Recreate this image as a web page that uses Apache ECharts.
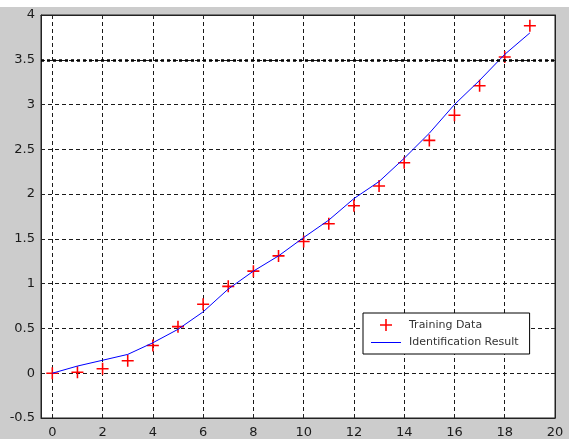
<!DOCTYPE html>
<html>
<head>
<meta charset="utf-8">
<script src="https://cdn.jsdelivr.net/npm/echarts@6/dist/echarts.min.js"></script>
<style>
  html, body { margin: 0; padding: 0; background: #fff; }
  #wrap { position: relative; width: 581px; height: 439px; overflow: hidden; }
  #panel { position: absolute; left: 0; top: 7px; width: 569px; height: 432px; background: #cccccc; }
  #chart { position: absolute; left: 0; top: 0; width: 581px; height: 439px; }
</style>
</head>
<body>
<div id="wrap"><div id="panel"></div><div id="chart"></div></div>
<script>
// Sample index (time step)
const steps = [0, 1, 2, 3, 4, 5, 6, 7, 8, 9, 10, 11, 12, 13, 14, 15, 16, 17, 18, 19];
// Measured training samples
const trainingData = [0.0, 0.01, 0.05, 0.14, 0.31, 0.52, 0.77, 0.97, 1.14, 1.31,
                      1.47, 1.67, 1.87, 2.09, 2.35, 2.60, 2.88, 3.21, 3.53, 3.88];
// Output of the identified model
const identified = [0.0, 0.08, 0.145, 0.21, 0.34, 0.49, 0.685, 0.94, 1.14, 1.31,
                    1.515, 1.71, 1.95, 2.14, 2.40, 2.68, 3.0, 3.27, 3.56, 3.80];
// Axis ticks
const xTicks = [0, 2, 4, 6, 8, 10, 12, 14, 16, 18, 20];
const threshold = 3.5;

const plusIcon = 'path://M-1,-0.13L1,-0.13L1,0.13L-1,0.13Z M-0.13,-1L0.13,-1L0.13,1L-0.13,1Z';
const lineIcon = 'path://M0,0L30,0L30,1L0,1Z';

const ink = '#1a1a1a';
const gridDash = { color: '#1a1a1a', width: 1, type: [4, 3] };
const labelFont = { fontFamily: 'DejaVu Sans', fontSize: 13, color: ink };

const chart = echarts.init(document.getElementById('chart'), null, { renderer: 'canvas' });

chart.setOption({
  animation: false,
  backgroundColor: 'transparent',
  grid: {
    left: 41, top: 15, width: 514, height: 407,
    show: true, backgroundColor: '#ffffff', borderColor: '#222', borderWidth: 1,
    containLabel: false
  },
  legend: {
    orient: 'vertical',
    left: 363, top: 313,
    padding: [6, 11, 6, 8],
    itemWidth: 30, itemHeight: 12, itemGap: 6,
    backgroundColor: '#ffffff', borderColor: '#000', borderWidth: 1, borderRadius: 0,
    selectedMode: false,
    textStyle: { fontFamily: 'DejaVu Sans', fontSize: 11, color: '#333', padding: [0, 0, 0, 3] },
    data: [
      { name: 'Training Data', icon: plusIcon },
      { name: 'Identification Result', icon: lineIcon }
    ]
  },
  xAxis: [
    {
      type: 'value', min: -0.45, max: 20, position: 'bottom',
      axisLine: { show: true, onZero: false, lineStyle: { color: '#222', width: 1 } },
      axisTick: { show: true, inside: true, length: 4, customValues: xTicks, lineStyle: { color: '#222' } },
      axisLabel: Object.assign({ customValues: xTicks, margin: 8 }, labelFont),
      splitLine: { show: true, lineStyle: gridDash }
    },
    {
      type: 'value', min: -0.45, max: 20, position: 'top',
      axisLine: { show: true, onZero: false, lineStyle: { color: '#222', width: 1 } },
      axisTick: { show: true, inside: true, length: 4, customValues: xTicks, lineStyle: { color: '#222' } },
      axisLabel: { show: false },
      splitLine: { show: false }
    }
  ],
  yAxis: [
    {
      type: 'value', min: -0.5, max: 4, interval: 0.5, position: 'left',
      axisLine: { show: true, onZero: false, lineStyle: { color: '#222', width: 1 } },
      axisTick: { show: true, inside: true, length: 4, lineStyle: { color: '#222' } },
      axisLabel: Object.assign({ margin: 6 }, labelFont),
      splitLine: { show: true, lineStyle: gridDash }
    },
    {
      type: 'value', min: -0.5, max: 4, interval: 0.5, position: 'right',
      axisLine: { show: true, onZero: false, lineStyle: { color: '#222', width: 1 } },
      axisTick: { show: true, inside: true, length: 4, lineStyle: { color: '#222' } },
      axisLabel: { show: false },
      splitLine: { show: false }
    }
  ],
  series: [
    {
      name: 'Training Data',
      type: 'scatter',
      xAxisIndex: 0, yAxisIndex: 0,
      symbol: plusIcon,
      symbolSize: 12,
      itemStyle: { color: '#ff0000', opacity: 1 },
      data: steps.map((x, i) => [x, trainingData[i]]),
      z: 3
    },
    {
      name: 'Identification Result',
      type: 'line',
      xAxisIndex: 0, yAxisIndex: 0,
      showSymbol: false,
      symbol: 'none',
      lineStyle: { color: '#0000ff', width: 1 },
      itemStyle: { color: '#0000ff' },
      data: steps.map((x, i) => [x, identified[i]]),
      z: 4,
      markLine: {
        silent: true,
        symbol: ['none', 'none'],
        label: { show: false },
        lineStyle: { color: '#000', type: [3, 3], width: 2.5 },
        data: [{ yAxis: threshold }]
      }
    }
  ]
});
</script>
</body>
</html>
